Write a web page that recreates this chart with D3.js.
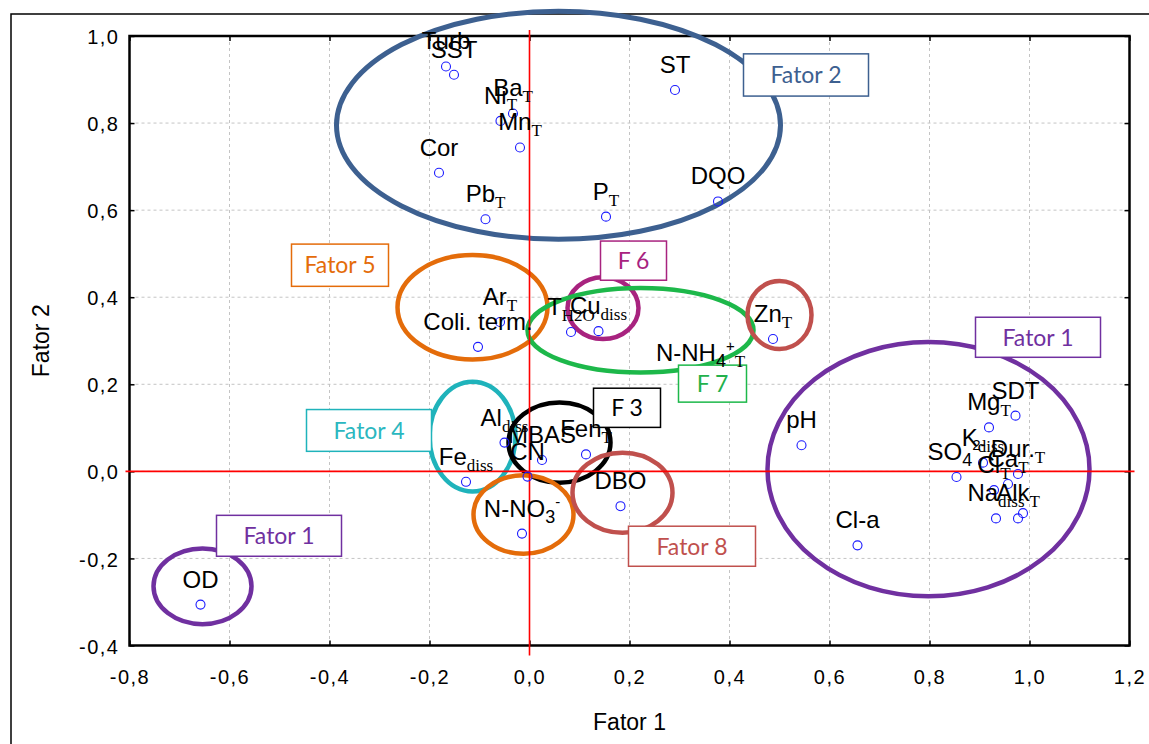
<!DOCTYPE html>
<html>
<head>
<meta charset="utf-8">
<script src="https://cdn.jsdelivr.net/npm/d3@7"></script>
<style>
  html, body { margin: 0; padding: 0; background: #fff; overflow: hidden; }
  svg { display: block; }
</style>
</head>
<body>
<svg id="chart" width="1149" height="744"></svg>
<script>
// ---- factor loadings (markup in names: _{..} subscript, ^{..} superscript) ----
const varNames = ["Turb", "SST", "Ba_{T}", "Ni_{T}", "Mn_{T}", "Cor", "Pb_{T}", "ST", "DQO", "P_{T}",
  "Coli. term.", "Ar_{T}", "T_{H2O}", "Cu_{diss}", "N-NH_{4}^{+}_{T}", "Zn_{T}",
  "Al_{diss}", "Fe_{diss}", "MBAS", "CN", "Fen_{T}", "DBO", "N-NO_{3}^{-}",
  "pH", "Cl-a", "OD", "SDT", "Mg_{T}", "K_{diss}", "SO_{4}^{2-}", "Dur._{T}", "Ca_{T}",
  "Cl_{T}", "Na_{diss}", "Alk_{T}", ""];
const fator1 = [-0.167, -0.151, -0.033, -0.058, -0.019, -0.181, -0.088, 0.291, 0.377, 0.153,
  -0.103, -0.059, 0.083, 0.138, 0.342, 0.487,
  -0.050, -0.127, 0.025, -0.004, 0.113, 0.182, -0.015,
  0.544, 0.656, -0.658, 0.972, 0.919, 0.907, 0.854, 0.977, 0.957,
  0.929, 0.933, 0.977, 0.987];
const fator2 = [0.930, 0.911, 0.822, 0.805, 0.744, 0.686, 0.579, 0.876, 0.620, 0.585,
  0.286, 0.343, 0.320, 0.322, 0.215, 0.304,
  0.066, -0.024, 0.026, -0.012, 0.039, -0.080, -0.143,
  0.060, -0.170, -0.306, 0.128, 0.101, 0.020, -0.013, -0.006, -0.029,
  -0.043, -0.108, -0.108, -0.096];

// ---- axes ----
const xTicks = [-0.8, -0.6, -0.4, -0.2, 0.0, 0.2, 0.4, 0.6, 0.8, 1.0, 1.2];
const yTicks = [-0.4, -0.2, 0.0, 0.2, 0.4, 0.6, 0.8, 1.0];
const xTitle = "Fator 1";
const yTitle = "Fator 2";

// ---- factor groupings: ellipses (centre / radii in loading units) ----
const groupKey = ["f2", "f5", "f6", "f7", "f8", "f1", "f1", "f4", "f3", "f5", "f8"];
const groupCx  = [0.058, -0.114, 0.147, 0.222, 0.500, 0.798, -0.654, -0.114, 0.060, -0.012, 0.186];
const groupCy  = [0.795, 0.377, 0.375, 0.324, 0.359, 0.005, -0.264, 0.080, 0.066, -0.099, -0.049];
const groupRx  = [0.444, 0.150, 0.071, 0.226, 0.064, 0.322, 0.098, 0.086, 0.102, 0.100, 0.100];
const groupRy  = [0.262, 0.120, 0.071, 0.097, 0.078, 0.292, 0.087, 0.126, 0.092, 0.090, 0.092];

// ---- factor name tags (corners in loading units) ----
const tagText = ["Fator 2", "Fator 5", "F 6", "F 7", "Fator 1", "Fator 1", "Fator 4", "F 3", "Fator 8"];
const tagKey  = ["f2", "f5", "f6", "f7", "f1", "f1", "f4", "f3", "f8"];
const tagX0   = [0.428, -0.476, 0.142, 0.298, 0.892, -0.626, -0.446, 0.128, 0.198];
const tagX1   = [0.678, -0.282, 0.274, 0.434, 1.142, -0.376, -0.196, 0.262, 0.452];
const tagY0   = [0.959, 0.522, 0.529, 0.244, 0.354, -0.101, 0.142, 0.191, -0.126];
const tagY1   = [0.862, 0.425, 0.439, 0.159, 0.262, -0.195, 0.046, 0.101, -0.218];

const colors = {
  f1: "#7030a0", f2: "#3d6090", f3: "#000000", f4: "#1fb3bb",
  f5: "#e46c0a", f6: "#a8237f", f7: "#1db84a", f8: "#c0504d"
};
const tagTextColor = {
  f1: "#7030a0", f2: "#3d6090", f3: "#000000", f4: "#2bb7bf",
  f5: "#e46c0a", f6: "#a8237f", f7: "#22b14c", f8: "#c0504d"
};

// ---- layout ----
const svg = d3.select("#chart");
const x = d3.scaleLinear().domain([-0.8, 1.2]).range([129.5, 1129.5]);
const y = d3.scaleLinear().domain([-0.4, 1.0]).range([645.5, 36]);
const SANS = "'Liberation Sans', Arial, sans-serif";
const SERIF = "'Liberation Serif', 'Times New Roman', serif";
const loc = d3.formatLocale({ decimal: ",", thousands: ".", grouping: [3], currency: ["", ""], minus: "-" });
const fmt = loc.format(".1f");

// outer frame
svg.append("rect")
  .attr("x", 11).attr("y", 14).attr("width", 1200).attr("height", 800)
  .attr("fill", "none").attr("stroke", "#000").attr("stroke-width", 1.5);

// grid
const grid = svg.append("g").attr("stroke", "#c4c4c4").attr("stroke-width", 1).attr("stroke-dasharray", "3,3");
grid.selectAll("line.gx").data(xTicks.slice(1, -1)).join("line")
  .attr("x1", d => x(d)).attr("x2", d => x(d))
  .attr("y1", y(1.0)).attr("y2", y(-0.4));
grid.selectAll("line.gy").data(yTicks.slice(1, -1)).join("line")
  .attr("y1", d => y(d)).attr("y2", d => y(d))
  .attr("x1", x(-0.8)).attr("x2", x(1.2));

// axes
const plotBottom = y(-0.4), plotTop = y(1.0), plotLeft = x(-0.8), plotRight = x(1.2);
const axB = svg.append("g").attr("transform", `translate(0,${plotBottom})`)
  .call(d3.axisBottom(x).tickValues(xTicks).tickFormat(fmt).tickSize(-5).tickSizeOuter(0).tickPadding(24));
const axL = svg.append("g").attr("transform", `translate(${plotLeft},0)`)
  .call(d3.axisLeft(y).tickValues(yTicks).tickFormat(fmt).tickSize(-5).tickSizeOuter(0).tickPadding(10));
const axT = svg.append("g").attr("transform", `translate(0,${plotTop})`)
  .call(d3.axisTop(x).tickValues(xTicks).tickFormat("").tickSize(-5).tickSizeOuter(0));
const axR = svg.append("g").attr("transform", `translate(${plotRight},0)`)
  .call(d3.axisRight(y).tickValues(yTicks).tickFormat("").tickSize(-5).tickSizeOuter(0));
[axB, axL, axT, axR].forEach(a => {
  a.select(".domain").remove();
  a.selectAll(".tick line").attr("stroke", "#000").attr("stroke-width", 1.5);
  a.selectAll("text").attr("font-family", SANS).attr("font-size", 20)
    .attr("letter-spacing", "1.5px").attr("fill", "#000");
});
axL.selectAll("text").attr("dy", "0.38em");

// plot frame
svg.append("rect")
  .attr("x", plotLeft).attr("y", plotTop)
  .attr("width", plotRight - plotLeft).attr("height", plotBottom - plotTop)
  .attr("fill", "none").attr("stroke", "#000").attr("stroke-width", 2.5);

// axis titles
svg.append("text").attr("x", (plotLeft + plotRight) / 2).attr("y", 730)
  .attr("text-anchor", "middle").attr("font-family", SANS).attr("font-size", 23)
  .text(xTitle);
svg.append("text").attr("transform", `translate(49,${(plotTop + plotBottom) / 2}) rotate(-90)`)
  .attr("text-anchor", "middle").attr("font-family", SANS).attr("font-size", 23)
  .text(yTitle);

// grouping ellipses
const groups = groupKey.map((k, i) => ({ k, cx: groupCx[i], cy: groupCy[i], rx: groupRx[i], ry: groupRy[i] }));
svg.append("g").selectAll("ellipse").data(groups).join("ellipse")
  .attr("cx", d => x(d.cx)).attr("cy", d => y(d.cy))
  .attr("rx", d => x(d.rx) - x(0)).attr("ry", d => y(0) - y(d.ry))
  .attr("fill", "none").attr("stroke", d => colors[d.k])
  .attr("stroke-width", d => d.k === "f2" ? 5 : 4.5);

// reference lines through the origin
svg.append("line").attr("x1", x(0)).attr("x2", x(0))
  .attr("y1", plotTop - 6).attr("y2", plotBottom + 10)
  .attr("stroke", "#ff0000").attr("stroke-width", 1.6);
svg.append("line").attr("y1", y(0)).attr("y2", y(0))
  .attr("x1", plotLeft - 4).attr("x2", plotRight + 5)
  .attr("stroke", "#ff0000").attr("stroke-width", 1.6);

// variables
const vars = varNames.map((n, i) => ({ n, f1: fator1[i], f2: fator2[i] }));
svg.append("g").selectAll("circle").data(vars).join("circle")
  .attr("cx", d => x(d.f1)).attr("cy", d => y(d.f2)).attr("r", 4.5)
  .attr("fill", "none").attr("stroke", "#1a1aff").attr("stroke-width", 1.1);

// factor tags (white boxes sit above the markers)
const tags = tagText.map((t, i) => ({ t, k: tagKey[i], x0: tagX0[i], x1: tagX1[i], y0: tagY0[i], y1: tagY1[i] }));
const tg = svg.append("g").selectAll("g").data(tags).join("g");
tg.append("rect")
  .attr("x", d => x(d.x0)).attr("y", d => y(d.y0))
  .attr("width", d => x(d.x1) - x(d.x0)).attr("height", d => y(d.y1) - y(d.y0))
  .attr("fill", "#fff").attr("stroke", d => colors[d.k]).attr("stroke-width", 1.5);
tg.append("text")
  .attr("x", d => (x(d.x0) + x(d.x1)) / 2).attr("y", d => (y(d.y0) + y(d.y1)) / 2)
  .attr("dy", "0.36em").attr("text-anchor", "middle")
  .attr("font-family", "Lato, 'Open Sans', sans-serif").attr("font-size", 23)
  .attr("fill", d => tagTextColor[d.k])
  .text(d => d.t);

function addLabel(sel, s) {
  const parts = s.match(/(_\{[^}]*\}|\^\{[^}]*\}|[^_^]+)/g) || [];
  let off = 0;
  parts.forEach(p => {
    let kind = "base", txt = p;
    if (p.startsWith("_{")) { kind = "sub"; txt = p.slice(2, -1); }
    else if (p.startsWith("^{")) { kind = "sup"; txt = p.slice(2, -1); }
    const target = kind === "sub" ? 6 : kind === "sup" ? -10 : 0;
    const ts = sel.append("tspan").attr("dy", target - off).text(txt);
    off = target;
    if (kind === "sub") {
      const numeric = /^[0-9]+$/.test(txt);
      ts.attr("font-size", numeric ? 18 : 17).attr("font-family", numeric ? SANS : SERIF);
    } else if (kind === "sup") {
      ts.attr("font-size", 15).attr("font-family", SANS);
    }
  });
}
const lg = svg.append("g").attr("font-family", SANS).attr("font-size", 24).attr("fill", "#000");
vars.forEach(d => {
  if (!d.n) return;
  const t = lg.append("text").attr("x", x(d.f1)).attr("y", y(d.f2) - 17).attr("text-anchor", "middle");
  addLabel(t, d.n);
});
</script>
</body>
</html>
